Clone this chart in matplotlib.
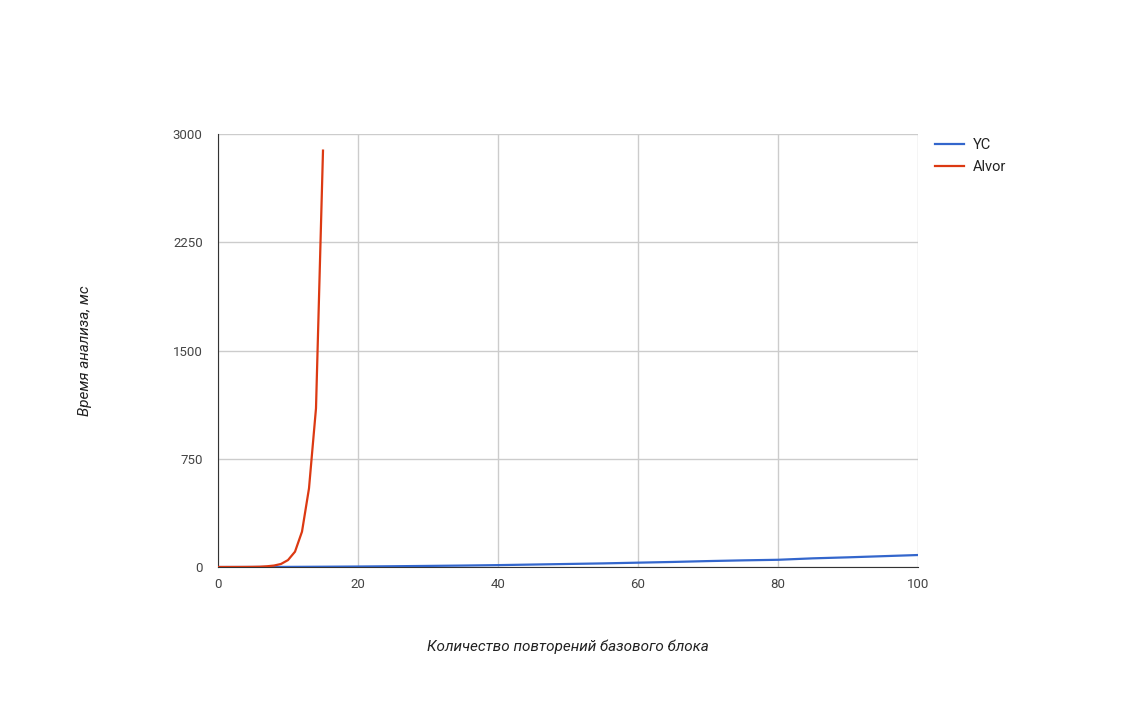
import matplotlib.pyplot as plt
from matplotlib.lines import Line2D

plt.rcParams['font.family'] = ['Roboto', 'DejaVu Sans']

# YC analysis time (ms)
yc_x = [0, 5, 10, 15, 20, 25, 30, 35, 40, 45, 50, 55, 60, 65, 70, 75, 80, 85, 90, 95, 100]
yc_y = [0, 0.2, 0.8, 1.9, 3.3, 5.2, 7.5, 10, 13, 17, 21, 25, 30, 35, 41, 46, 50, 60, 67, 75, 83]

# Alvor analysis time (ms)
alvor_x = [0, 1, 2, 3, 4, 5, 6, 7, 8, 9, 10, 11, 12, 13, 14, 15]
alvor_y = [0, 0, 0.1, 0.2, 0.5, 1, 2, 5, 10, 21, 48, 106, 245, 545, 1100, 2885]

x_ticks = [0, 20, 40, 60, 80, 100]
y_ticks = [0, 750, 1500, 2250, 3000]

fig = plt.figure(figsize=(11.36, 7.02), dpi=100)
ax = fig.add_axes([218 / 1136, 1 - 567 / 702, 700 / 1136, 433 / 702])

ax.plot(yc_x, yc_y, color="#3366cc", lw=1.6, label="YC", zorder=3)
ax.plot(alvor_x, alvor_y, color="#dc3912", lw=1.6, label="Alvor", zorder=4)

ax.set_xlim(0, 100)
ax.set_ylim(0, 3000)
ax.set_xticks(x_ticks)
ax.set_yticks(y_ticks)
ax.grid(True, color="#cccccc", lw=1)
ax.set_axisbelow(True)
ax.tick_params(length=0, labelsize=9.5, labelcolor="#444444")
ax.tick_params(axis="y", pad=11)
ax.tick_params(axis="x", pad=8)

for side in ["top", "right"]:
    ax.spines[side].set_visible(False)
ax.spines["left"].set_color("#333333")
ax.spines["bottom"].set_color("#333333")

fig.text(568 / 1136, 1 - 647 / 702, "Количество повторений базового блока",
         ha="center", va="center", fontsize=11, style="italic", color="#222222")
fig.text(85 / 1136, 1 - 351 / 702, "Время анализа, мс", rotation=90,
         ha="center", va="center", fontsize=11, style="italic", color="#222222")

handles = [Line2D([], [], color="#3366cc", lw=1.6),
           Line2D([], [], color="#dc3912", lw=1.6)]
fig.legend(handles, ["YC", "Alvor"], loc="upper left",
           bbox_to_anchor=(925 / 1136, 1 - 128 / 702), frameon=False,
           fontsize=10.5, handlelength=2.0, handletextpad=0.6,
           labelspacing=0.55, labelcolor="#222222", borderaxespad=0.3)

fig.savefig("out.png", dpi=100)
